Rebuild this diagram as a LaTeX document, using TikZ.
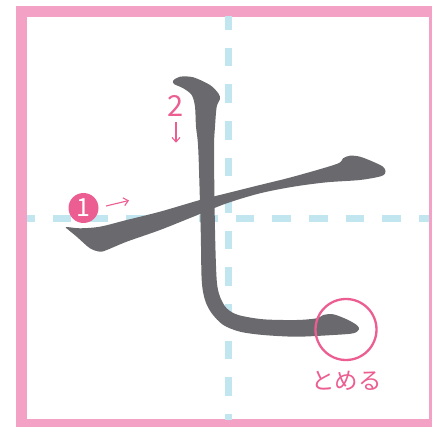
\documentclass[tikz,border=0pt]{standalone}
\usepackage{fontspec}
\newfontfamily\jpfont{Noto Sans CJK JP}
\usetikzlibrary{positioning,arrows.meta}

\definecolor{framepink}{RGB}{244,161,198}
\definecolor{guideblue}{RGB}{193,230,240}
\definecolor{inkgray}{RGB}{106,106,110}
\definecolor{hintpink}{RGB}{236,94,146}

\begin{document}
\begin{tikzpicture}[
  x=1pt, y=-1pt,
  >={Straight Barb[length=4.5pt,width=8pt]},
  guide line/.style={guideblue, line width=7pt, dash pattern=on 18.5pt off 18.1pt},
  brush/.style={fill=inkgray, draw=none},
  order label/.style={text=hintpink, font=\jpfont\fontsize{29}{29}\selectfont, inner sep=0pt},
  order disc/.style={circle, fill=hintpink, minimum size=30pt, inner sep=0pt,
    text=white, font=\jpfont\fontsize{25}{25}\selectfont},
  hint arrow/.style={->, hintpink, line width=1.1pt},
  stop ring/.style={circle, draw=hintpink, line width=2.3pt, minimum size=61pt, inner sep=0pt},
  stop label/.style={text=hintpink, font=\jpfont\fontsize{23.5}{23.5}\selectfont, inner sep=0pt}
]
  \useasboundingbox (0,0) rectangle (432,428);
  \clip (0,0) rectangle (432,428);

  % practice box: pink frame, white field, dashed centre guides
  \fill[framepink] (16,6) rectangle (440,427);
  \fill[white] (27,17) rectangle (429,419);
  \begin{scope}
    \clip (27,17) rectangle (429,419);
    \draw[guide line] (228.8,11.3) -- (228.8,428);
    \draw[guide line] (16.2,219) -- (432,219);
  \end{scope}

  % stroke 1: rising horizontal
  \fill[brush] plot[smooth cycle, tension=0.5] coordinates {
    (66,227) (80,228.3) (100,226.7) (126.7,220) (160,211.7) (200,200)
    (226.7,193.3) (260,185) (293.3,176.7) (336.7,164) (343,158.3)
    (350,155.7) (360,156.7) (373,161.7) (383,166.7) (385.5,171.5)
    (381.7,176) (360,180) (326.7,182.3) (293.3,186.7) (260,193.3)
    (226.7,203.3) (193.3,216.7) (160,230) (126.7,241.7) (106.7,250)
    (100,251.7) (90,248.3) (76.7,236.7) (68,229.5)};

  % stroke 2: vertical with bend to the right
  \fill[brush] plot[smooth cycle, tension=0.5] coordinates {
    (173.3,80.5) (180,76.7) (193.3,77.3) (210,85) (218.3,93.3) (220,99)
    (216.7,106.7) (215,126.7) (214,150) (215,230) (216.7,280)
    (220,296.7) (226.7,308.3) (238.3,315) (263.3,319.3) (296.7,320)
    (316.7,318.3) (323.3,315) (333.3,314.3) (346.7,319.3) (356.7,325)
    (359,329.3) (353.3,333.3) (333.3,335) (296.7,336.7) (263.3,335)
    (240,331.7) (223.3,325) (211.7,313.3) (205,300) (201.7,280)
    (200.7,230) (198.3,150) (196,126.7) (195,106.7) (191.7,95)
    (183.3,88.3) (174,84)};

  % order hints
  \node[order disc] (one) at (83.5,208) {1};
  \coordinate (one from) at (106,206);
  \coordinate (one to) at (129,200.5);
  \draw[hint arrow] (one from) -- (one to);

  \node[order label] (two) at (176,106) {2};
  \coordinate[below=5pt of two] (two from);
  \coordinate[below=26pt of two] (two to);
  \draw[hint arrow] (two from) -- (two to);

  % stop mark at the end of stroke 2
  \node[stop ring] (stop) at (346,329.5) {};
  \node[stop label] (stop text) at (346.7,381) {とめる};
\end{tikzpicture}
\end{document}
